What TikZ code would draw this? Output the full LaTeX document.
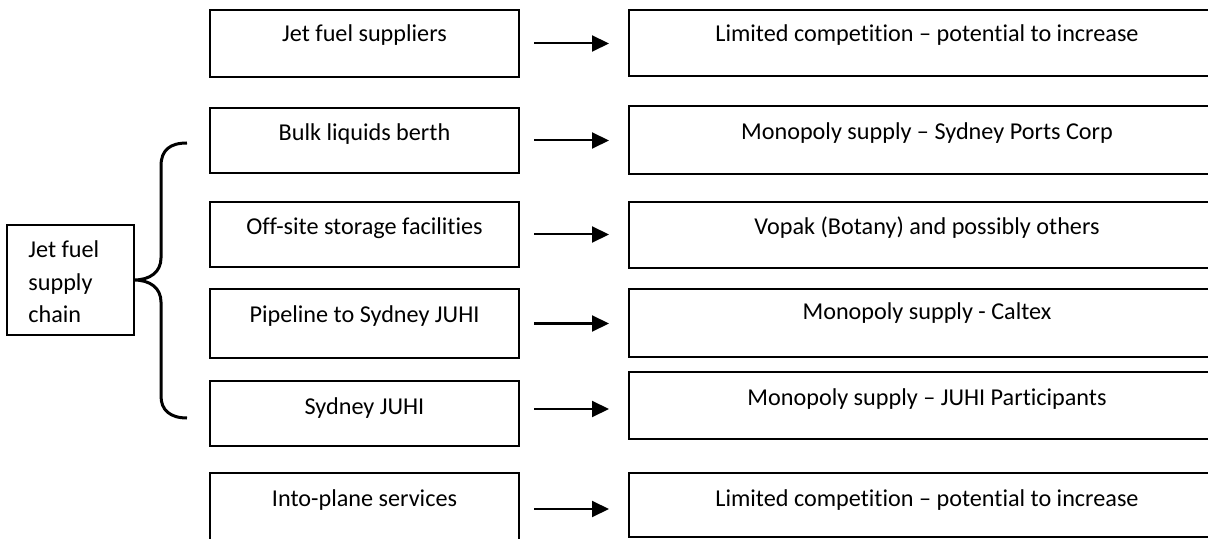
\documentclass[tikz,border=0pt]{standalone}
\usepackage{fontspec}
\setmainfont[Ligatures={NoCommon}]{Carlito}
\usetikzlibrary{arrows.meta,calc}
\begin{document}
\begin{tikzpicture}[x=0.5pt,y=-0.5pt,
  box/.style={draw, line width=0.75pt, minimum width=154.5pt, inner sep=0pt, outer sep=0pt},
  rbox/.style={draw, line width=0.75pt, minimum width=298pt, inner sep=0pt, outer sep=0pt},
  sbox/.style={draw, line width=0.75pt, minimum width=63.5pt, minimum height=55pt, inner sep=0pt, outer sep=0pt},
  txt/.style={anchor=base, inner sep=0pt, font=\fontsize{12.1}{16.5}\selectfont},
  arr/.style={-{Triangle[length=8.5pt,width=8pt]}, line width=1pt},
  brace/.style={line width=1.5pt}]
\clip (0,0) rectangle (1208,539);
% left boxes
\node[box, minimum height=33.5pt] (l1) at (364.5,43.5) {};
\node[box, minimum height=32.5pt] (l2) at (364.5,140.5) {};
\node[box, minimum height=32.5pt] (l3) at (364.5,234.5) {};
\node[box, minimum height=34.5pt] (l4) at (364.5,323.5) {};
\node[box, minimum height=32.5pt] (l5) at (364.5,413.5) {};
\node[box, minimum height=36pt]   (l6) at (364.5,509) {};
% right boxes
\node[rbox, minimum height=33pt]   (r1) at (927,43) {};
\node[rbox, minimum height=34pt]   (r2) at (927,140) {};
\node[rbox, minimum height=33pt]   (r3) at (927,235) {};
\node[rbox, minimum height=34pt]   (r4) at (927,323) {};
\node[rbox, minimum height=33.5pt] (r5) at (927,405.5) {};
\node[rbox, minimum height=32pt]   (r6) at (927,505) {};
% left texts
\node[txt] (lt1) at (364.5,42)  {Jet fuel suppliers};
\node[txt] (lt2) at (364.5,141) {Bulk liquids berth};
\node[txt] (lt3) at (364.5,235) {Off-site storage facilities};
\node[txt] (lt4) at (364.5,322) {Pipeline to Sydney JUHI};
\node[txt] (lt5) at (364.5,414) {Sydney JUHI};
\node[txt] (lt6) at (364.5,506) {Into-plane services};
% right texts
\node[txt] (rt1) at (927,42)  {Limited competition – potential to increase};
\node[txt] (rt2) at (927,140) {Monopoly supply – Sydney Ports Corp};
\node[txt] (rt3) at (927,235) {Vopak (Botany) and possibly others};
\node[txt] (rt4) at (927,320) {Monopoly supply - Caltex};
\node[txt] (rt5) at (927,405) {Monopoly supply – JUHI Participants};
\node[txt] (rt6) at (927,506) {Limited competition – potential to increase};
% arrows
\foreach \i in {1,2,3,4,6}{
  \draw[arr] ([xshift=7.5pt]l\i.east) -- ([xshift=-10pt]l\i.east -| r\i.west);
}
\draw[arr] ([xshift=7.5pt,yshift=2.25pt]l5.east) -- ([xshift=-10pt,yshift=2.25pt]l5.east -| r5.west);
% supply chain box
\node[sbox] (jf) at (70.5,280) {};
\begin{scope}
  \clip (7,225) rectangle (134,324);
  \node[txt, anchor=base west] (jf1) at (28,258) {Jet fuel};
  \node[txt, anchor=base west] (jf2) at (28,291) {supply};
  \node[txt, anchor=base west] (jf3) at (28,322) {chain};
\end{scope}
% brace
\coordinate (btop) at (187,143);
\coordinate (bbot) at (187,418);
\draw[brace] (btop) .. controls (170,143) and (161,150) .. (161,166)
  -- (161,258) .. controls (161,272) and (150,280) .. (jf.east)
  .. controls (150,280) and (161,288) .. (161,302)
  -- (161,396) .. controls (161,410) and (170,418) .. (bbot);
\end{tikzpicture}
\end{document}
